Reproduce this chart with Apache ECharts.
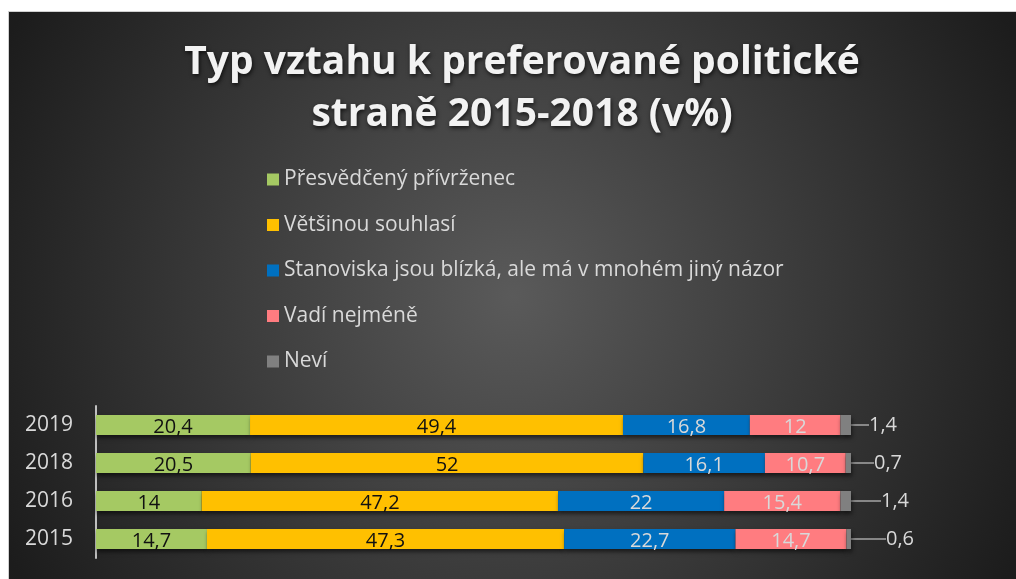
<!DOCTYPE html>
<html>
<head>
<meta charset="utf-8">
<script src="https://cdn.jsdelivr.net/npm/echarts@6/dist/echarts.min.js"></script>
<style>
  html, body { margin: 0; padding: 0; background: #fff; }
  #chart {
    position: absolute; left: 8px; top: 11px;
    width: 1008px; height: 568px;
    border-top: 1px solid #d0d0d0; border-left: 1px solid #d0d0d0;
  }
</style>
</head>
<body>
<div id="chart"></div>
<script>
// roky (odspodu nahoru)
const years = ['2015', '2016', '2018', '2019'];

const seriesNames = [
  'Přesvědčený přívrženec',
  'Většinou souhlasí',
  'Stanoviska jsou blízká, ale má v mnohém jiný názor',
  'Vadí nejméně',
  'Neví'
];

// hodnoty v %
const presvedceny = [14.7, 14, 20.5, 20.4];
const vetsinou = [47.3, 47.2, 52, 49.4];
const stanoviska = [22.7, 22, 16.1, 16.8];
const vadi = [14.7, 15.4, 10.7, 12];
const nevi = [0.6, 1.4, 0.7, 1.4];

const colors = ['#A5C963', '#FFC000', '#0070C0', '#FF7C80', '#808080'];
const labelColors = ['#111', '#111', '#d9d9d9', '#d9d9d9', '#d9d9d9'];

// posun popisků "Neví" doprava (px)
const neviNudge = [30, 25, 18, 13];

const fmt = v => String(v).replace('.', ',');

let chartDom = document.getElementById('chart');
let myChart = echarts.init(chartDom);

const allValues = [presvedceny, vetsinou, stanoviska, vadi, nevi];

let series = allValues.map((vals, i) => {
  let s = {
    name: seriesNames[i],
    type: 'bar',
    stack: 'total',
    barWidth: 20,
    data: vals,
    itemStyle: {
      color: colors[i],
      shadowColor: 'rgba(0,0,0,0.55)',
      shadowBlur: 4,
      shadowOffsetX: 1,
      shadowOffsetY: 3
    },
    label: {
      show: true,
      position: 'inside',
      offset: [0, 2],
      color: labelColors[i],
      fontFamily: 'Open Sans',
      fontSize: 20,
      formatter: p => fmt(p.value)
    }
  };
  if (i === 4) {
    s.label.position = 'right';
    s.label.distance = 5;
    s.label.offset = [0, 1];
    s.labelLayout = p => ({ dx: neviNudge[p.dataIndex] });
    s.labelLine = {
      show: true,
      lineStyle: { color: '#a6a6a6', width: 1.5 }
    };
  }
  return s;
});

let option = {
  backgroundColor: {
    type: 'radial',
    x: 0.5, y: 0.5, r: 1.0,
    colorStops: [
      { offset: 0, color: '#5a5a5a' },
      { offset: 1, color: '#1c1c1c' }
    ]
  },
  title: {
    text: 'Typ vztahu k preferované politické\nstraně 2015-2018 (v%)',
    left: 508,
    top: 20,
    textAlign: 'center',
    textStyle: {
      color: '#f2f2f2',
      fontFamily: 'Open Sans',
      fontWeight: 'bold',
      fontSize: 39,
      lineHeight: 52,
      textShadowColor: 'rgba(0,0,0,0.7)',
      textShadowBlur: 4,
      textShadowOffsetX: 1,
      textShadowOffsetY: 2
    }
  },
  legend: {
    orient: 'vertical',
    left: 253,
    top: 152,
    itemWidth: 12,
    itemHeight: 12,
    itemGap: 24.5,
    icon: 'rect',
    data: seriesNames,
    textStyle: {
      color: '#d9d9d9',
      fontFamily: 'Open Sans',
      fontSize: 21,
      lineHeight: 20
    }
  },
  grid: {
    left: 87,
    top: 394,
    width: 755,
    height: 152
  },
  xAxis: {
    type: 'value',
    min: 0,
    max: 100,
    show: false
  },
  yAxis: {
    type: 'category',
    data: years,
    axisLine: { show: true, lineStyle: { color: '#bfbfbf', width: 2 } },
    axisTick: { show: false },
    axisLabel: {
      color: '#d9d9d9',
      fontFamily: 'Open Sans',
      fontSize: 21,
      margin: 23
    },
    splitLine: { show: false }
  },
  series: series
};

option && myChart.setOption(option);
</script>
</body>
</html>
